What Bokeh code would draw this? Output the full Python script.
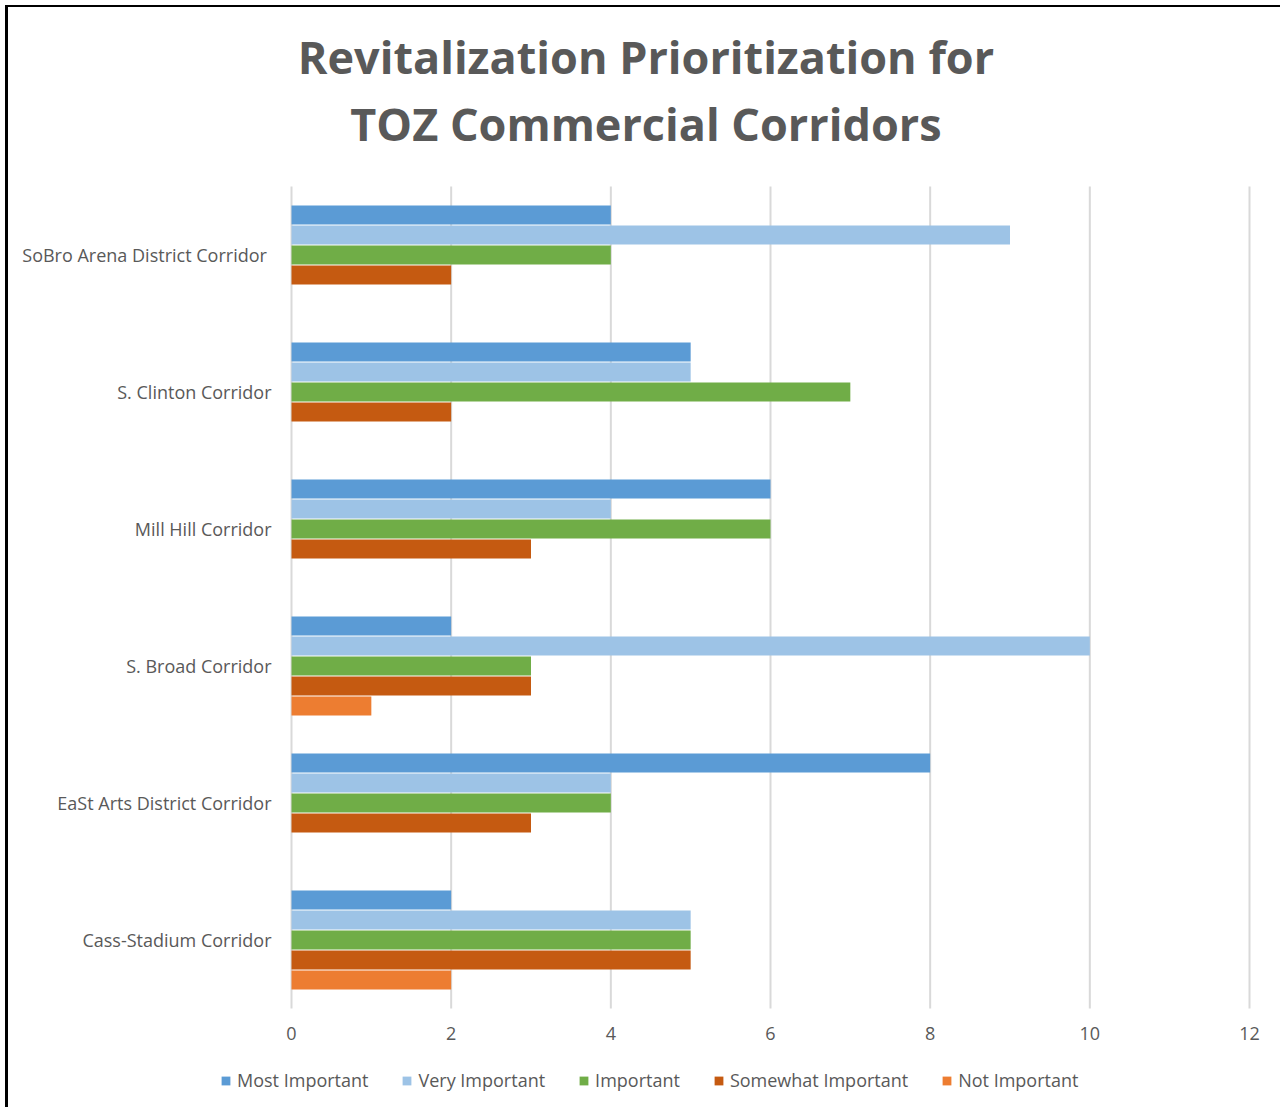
from bokeh.plotting import figure
from bokeh.models import Range1d, Label
from bokeh.core.properties import value
from bokeh.embed import file_html
from bokeh.resources import INLINE

corridors = ["SoBro  Arena District Corridor", "S. Clinton Corridor", "Mill Hill Corridor",
             "S. Broad Corridor", "EaSt Arts District Corridor", "Cass-Stadium Corridor"]
series = ["Most Important", "Very Important", "Important", "Somewhat Important", "Not Important"]
most_important = [4, 5, 6, 2, 8, 2]
very_important = [9, 5, 4, 10, 4, 5]
important = [4, 7, 6, 3, 4, 5]
somewhat_important = [2, 2, 3, 3, 3, 5]
not_important = [0, 0, 0, 1, 0, 2]
colors = ["#5B9BD5", "#9DC3E6", "#70AD47", "#C55A11", "#ED7D31"]
x_ticks = [0, 2, 4, 6, 8, 10, 12]
title_lines = ["Revitalization Prioritization for", "TOZ Commercial Corridors"]

values = [most_important, very_important, important, somewhat_important, not_important]

FONT = "Open Sans"
GRAY = "#595959"
GRID = "#D9D9D9"

n = len(corridors)
# one unit per corridor slot; corridor block spans 0..n (top corridor at top)
cat_y = [n - 0.5 - i for i in range(n)]

p = figure(width=1275, height=1102, output_backend="svg", toolbar_location=None,
           x_range=Range1d(-3.545, 12.426), y_range=Range1d(-0.7372, 7.3066),
           title=None, x_axis_location=None, y_axis_location=None,
           min_border_left=0, min_border_right=0, min_border_top=0, min_border_bottom=0)
p.outline_line_color = None
p.grid.visible = False
p.styles = {"margin-left": "5px", "margin-top": "5px",
            "border-left": "3px solid black", "border-top": "2px solid black"}

# vertical gridlines (value axis)
p.segment(x0=x_ticks, x1=x_ticks, y0=0, y1=n, line_color=GRID, line_width=2)

bar_slot = 0.146
bar_h = 0.139
offsets = [2 * bar_slot, bar_slot, 0.0, -bar_slot, -2 * bar_slot]
for name, vals, col, off in zip(series, values, colors, offsets):
    src = dict(y=[c + off for c in cat_y], value=vals)
    p.hbar(y="y", left=0, right="value", height=bar_h, source=src,
           fill_color=col, line_color=None, legend_label=name)

# category labels
p.text(x=-0.25, y=cat_y, text=corridors, text_align="right", text_baseline="middle",
       text_font=value(FONT), text_font_size="18px", text_color=GRAY)

# value-axis tick labels
p.text(x=x_ticks, y=-0.182, text=[str(t) for t in x_ticks], text_align="center",
       text_baseline="middle", text_font=value(FONT), text_font_size="18px", text_color=GRAY)

lg = p.legend[0]
lg.orientation = "horizontal"
lg.location = (212, 17)
lg.padding = 0
lg.margin = 0
lg.spacing = 33
lg.glyph_width = 11
lg.glyph_height = 11
lg.label_standoff = 6
lg.label_text_font = FONT
lg.label_text_font_size = "18px"
lg.label_text_color = GRAY
lg.border_line_color = None
lg.background_fill_alpha = 0

for txt, yy in zip(title_lines, [6.95, 6.46]):
    p.add_layout(Label(x=4.44, y=yy, text=txt, text_align="center", text_baseline="alphabetic",
                       text_font=FONT, text_font_style="bold", text_font_size="45px",
                       text_color=GRAY))

open("out.html", "w").write(file_html(p, INLINE))
